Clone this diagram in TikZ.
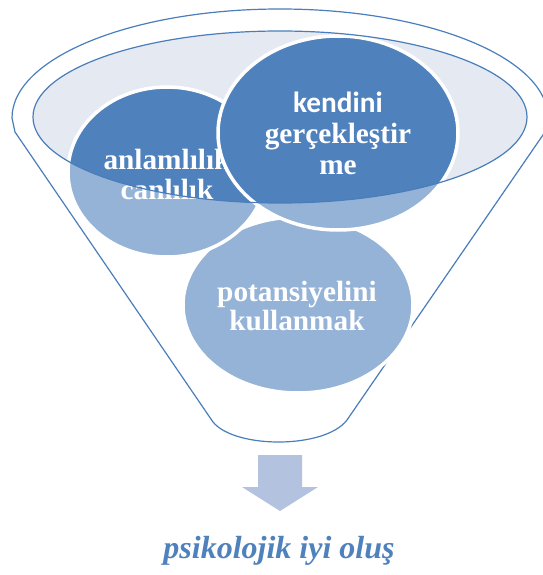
\documentclass[tikz,border=0pt]{standalone}
\usepackage{fontspec}
\setmainfont{Liberation Serif}
\newfontfamily\calibri{Carlito}

\definecolor{koyumavi}{HTML}{4F81BD}
\definecolor{acikmavi}{HTML}{95B3D7}
\definecolor{zemin}{HTML}{E4E9F2}
\definecolor{okrengi}{HTML}{B3C3DF}
\definecolor{cizgi}{HTML}{4A7EBB}

\tikzset{
  kenar/.style={draw=cizgi, line width=1.2pt},
  beyazkenar/.style={draw=white, line width=3.5pt},
  daireyazi/.style={text=white, font=\bfseries\fontsize{29.3}{31}\selectfont, align=center},
}

\begin{document}
\begin{tikzpicture}[x=1pt, y=-1pt]
            \useasboundingbox (0,0) rectangle (542,575);

            % huni
            \draw[kenar] (15,132) -- (12,118) arc[x radius=268pt, y radius=109pt, start angle=180, end angle=0] -- (545,132) -- (347,420) .. controls (325,449) and (235,449) .. (213,422) -- cycle;

            \fill[zemin] (280,117) ellipse[x radius=247pt, y radius=86pt];

            % potansiyelini kullanmak
            \fill[acikmavi] (298,305) ellipse[x radius=115pt, y radius=88pt];
            \draw[beyazkenar] (298,305) ellipse[x radius=115pt, y radius=88pt];
            \node[daireyazi, font=\bfseries\fontsize{29.3}{28.5}\selectfont] (potansiyel) at (297,306) {potansiyelini\\kullanmak};

            % anlamlilik canlilik
            \fill[acikmavi] (167,172) ellipse[x radius=99pt, y radius=85pt];
            \begin{scope}
                \clip (280,117) ellipse[x radius=247pt, y radius=86pt];
                \fill[koyumavi] (167,172) ellipse[x radius=99pt, y radius=85pt];
            \end{scope}
            \draw[beyazkenar] (167,172) ellipse[x radius=99pt, y radius=85pt];
            \node[daireyazi, font=\bfseries\fontsize{29.3}{30}\selectfont] (anlam) at (167,174) {anlamlılık\\canlılık};

            % kendini gerceklestirme
            \fill[acikmavi] (338,133) ellipse[x radius=120pt, y radius=97pt];
            \begin{scope}
                \clip (280,117) ellipse[x radius=247pt, y radius=86pt];
                \fill[koyumavi] (338,133) ellipse[x radius=120pt, y radius=97pt];
            \end{scope}
            \draw[beyazkenar] (338,133) ellipse[x radius=120pt, y radius=97pt];
            \node[daireyazi] (kendini) at (338,133) {{\calibri kendini}\\gerçekleştir\\me};

            \draw[kenar] (280,117) ellipse[x radius=247pt, y radius=86pt];

            % ok ve sonuc
            \fill[okrengi] (258,455) -- (302,455) -- (302,487) -- (318,487) -- (280,511) -- (242,487) -- (258,487) -- cycle;

            \node[anchor=base, text=koyumavi, font=\bfseries\itshape\fontsize{32}{36}\selectfont] (sonuc) at (279,558) {psikolojik iyi oluş};
\end{tikzpicture}
\end{document}
